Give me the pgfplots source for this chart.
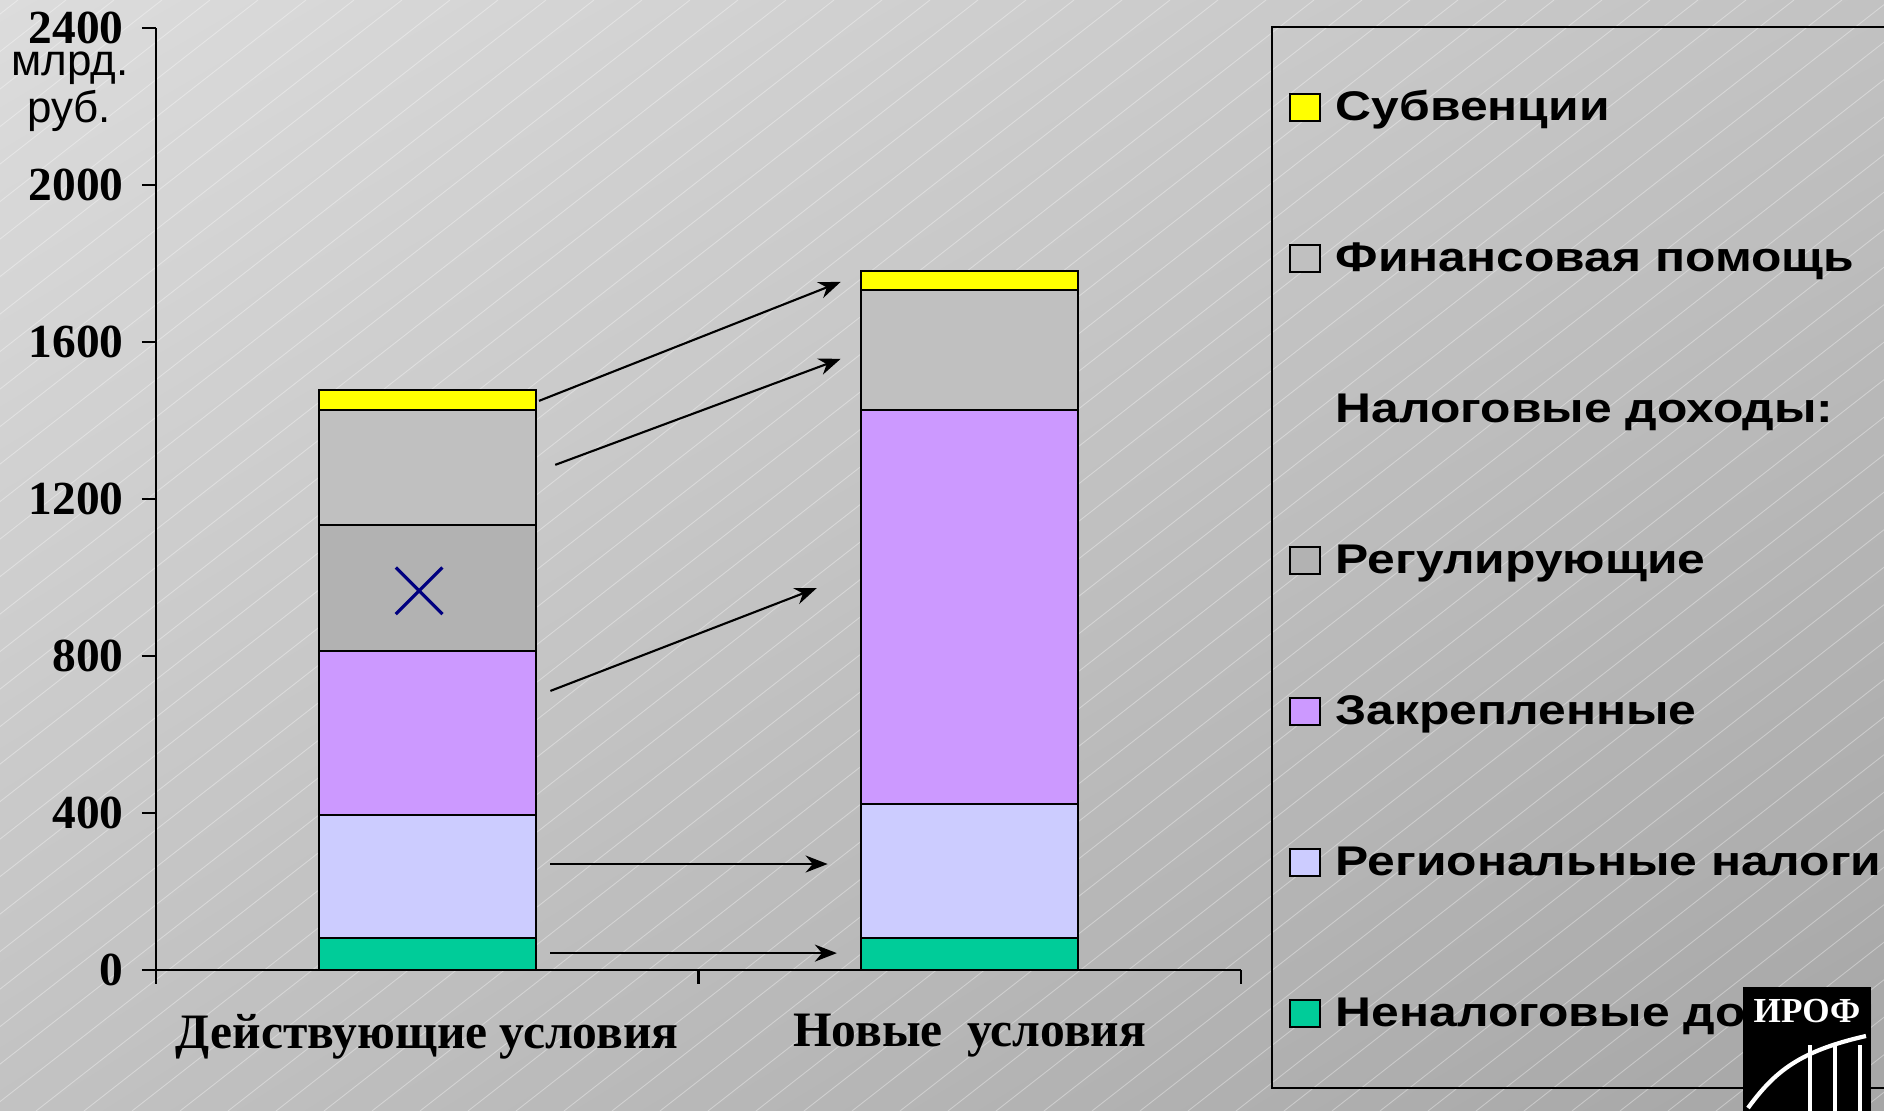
\documentclass[border=0pt]{standalone}
\usepackage{fontspec}
\setmainfont{Liberation Serif}
\newfontfamily\arialfont{Liberation Sans}
\newfontfamily\legfont{Liberation Sans}[FakeStretch=1.2]
\usepackage{pgfplots}
\pgfplotsset{compat=1.18}
\usetikzlibrary{arrows.meta,shadings}
\definecolor{bgA}{HTML}{DCDCDC}
\definecolor{bgB}{HTML}{C2C2C2}
\definecolor{bgC}{HTML}{A6A6A6}
\definecolor{subv}{HTML}{FFFF00}
\definecolor{finpom}{HTML}{C0C0C0}
\definecolor{regul}{HTML}{B2B2B2}
\definecolor{zakrep}{HTML}{CC99FF}
\definecolor{regnal}{HTML}{CCCCFF}
\definecolor{nenal}{HTML}{00CC99}
\definecolor{navyx}{HTML}{000080}
\pgfplotsset{sqlegend/.style={legend image code/.code={\draw[##1, line width=0.5pt] (0mm,-1.6mm) rectangle (3.0mm,1.1mm);}}}
\begin{document}
\begin{tikzpicture}
\path[use as bounding box] (0,0) rectangle (188.4mm,111.1mm);
\clip (0,0) rectangle (188.4mm,111.1mm);
\shade[upper left=bgA, upper right=bgB, lower left=bgB, lower right=bgC] (0,0) rectangle (188.4mm,111.1mm);
\foreach \i in {-150,-145.2,...,190} {
  \draw[white, opacity=0.35, line width=0.25pt] (\i mm,0) -- ++(142.2mm,111.1mm);
}
\begin{axis}[
  at={(15.6mm,14.1mm)}, anchor=south west,
  scale only axis, width=108.5mm, height=94.2mm,
  xmin=0.5, xmax=2.5, ymin=0, ymax=2400,
  ybar stacked, bar width=0.4,
  axis lines=left, axis line style={-, line width=0.6pt, black},
  tick align=outside, major tick length=1.4mm,
  tick style={line width=0.6pt, black},
  xtick={0.5,1.5,2.5}, x tick label as interval,
  xticklabels={Действующие условия, Новые~~условия},
  ytick={0,400,...,2400},
  yticklabel style={font=\fontsize{13.5}{14}\selectfont\bfseries, xshift=-0.6mm},
  xticklabel style={font=\fontsize{14.1}{16}\selectfont\bfseries, yshift=-1.8mm},
  /pgf/number format/assume math mode=true,
  /pgf/number format/1000 sep={},
  every axis plot post/.append style={sqlegend},
  legend style={at={(1.0276,1.002)}, anchor=north west, draw=black,
    line width=0.6pt, fill=none, inner xsep=1.7mm, inner ysep=5.85mm,
    row sep=11.28mm,
    font=\legfont\bfseries\fontsize{11.8}{12}\selectfont,
    nodes={inner sep=0pt, text height=3.48mm, text depth=0.34mm}},
  legend cell align=left, reverse legend,
  /tikz/every odd column/.append style={column sep=1.5mm},
]
\addplot[fill=nenal, draw=black, line width=0.6pt] coordinates {(1,82) (2,82)};
\addlegendentry{Неналоговые доходы}
\addplot[fill=regnal, draw=black, line width=0.6pt] coordinates {(1,314) (2,341)};
\addlegendentry{Региональные налоги}
\addplot[fill=zakrep, draw=black, line width=0.6pt] coordinates {(1,416) (2,1004)};
\addlegendentry{Закрепленные}
\addplot[fill=regul, draw=black, line width=0.6pt] coordinates {(1,322) (2,0)};
\addlegendentry{Регулирующие}
\addlegendimage{sqlegend, draw opacity=0, fill opacity=0}
\addlegendentry{Налоговые доходы:}
\addplot[fill=finpom, draw=black, line width=0.6pt] coordinates {(1,292) (2,306)};
\addlegendentry{Финансовая помощь}
\addplot[fill=subv, draw=black, line width=0.6pt] coordinates {(1,52) (2,49)};
\addlegendentry{Субвенции}
\draw[-{Stealth[length=2.2mm,width=1.7mm]}, line width=0.6pt] (axis cs:1.206,1450) -- (axis cs:1.762,1753);
\draw[-{Stealth[length=2.2mm,width=1.7mm]}, line width=0.6pt] (axis cs:1.236,1287) -- (axis cs:1.762,1557);
\draw[-{Stealth[length=2.2mm,width=1.7mm]}, line width=0.6pt] (axis cs:1.227,711) -- (axis cs:1.718,973);
\draw[-{Stealth[length=2.2mm,width=1.7mm]}, line width=0.6pt] (axis cs:1.227,270) -- (axis cs:1.738,270);
\draw[-{Stealth[length=2.2mm,width=1.7mm]}, line width=0.6pt] (axis cs:1.227,43) -- (axis cs:1.755,43);
\end{axis}
\begin{axis}[
  at={(15.6mm,14.1mm)}, anchor=south west,
  scale only axis, width=108.5mm, height=94.2mm,
  xmin=0.5, xmax=2.5, ymin=0, ymax=2400, hide axis,
]
\addplot[only marks, mark=x, mark size=3.3mm, navyx, line width=0.9pt] coordinates {(0.985,966)};
\end{axis}
\node[anchor=base, font=\arialfont\fontsize{12.5}{13}\selectfont, inner sep=0pt] at (7.0mm,103.5mm) {млрд.};
\node[anchor=base, font=\arialfont\fontsize{12.5}{13}\selectfont, inner sep=0pt] at (6.9mm,98.8mm) {руб.};
% logo
\fill[black] (174.3mm,0) rectangle (187.1mm,12.4mm);
\node[white, font=\bfseries\fontsize{10}{10}\selectfont, inner sep=0pt] at (180.7mm,10.0mm) {ИРОФ};
\draw[white, line width=1.2pt] (174.8mm,0.3mm) .. controls (177.5mm,4mm) and (180mm,6mm) .. (186.6mm,7.5mm);
\foreach \xx in {181.0,183.5,186.0} {\draw[white, line width=1.2pt] (\xx mm,0) -- (\xx mm,6.6mm);}
\end{tikzpicture}
\end{document}
